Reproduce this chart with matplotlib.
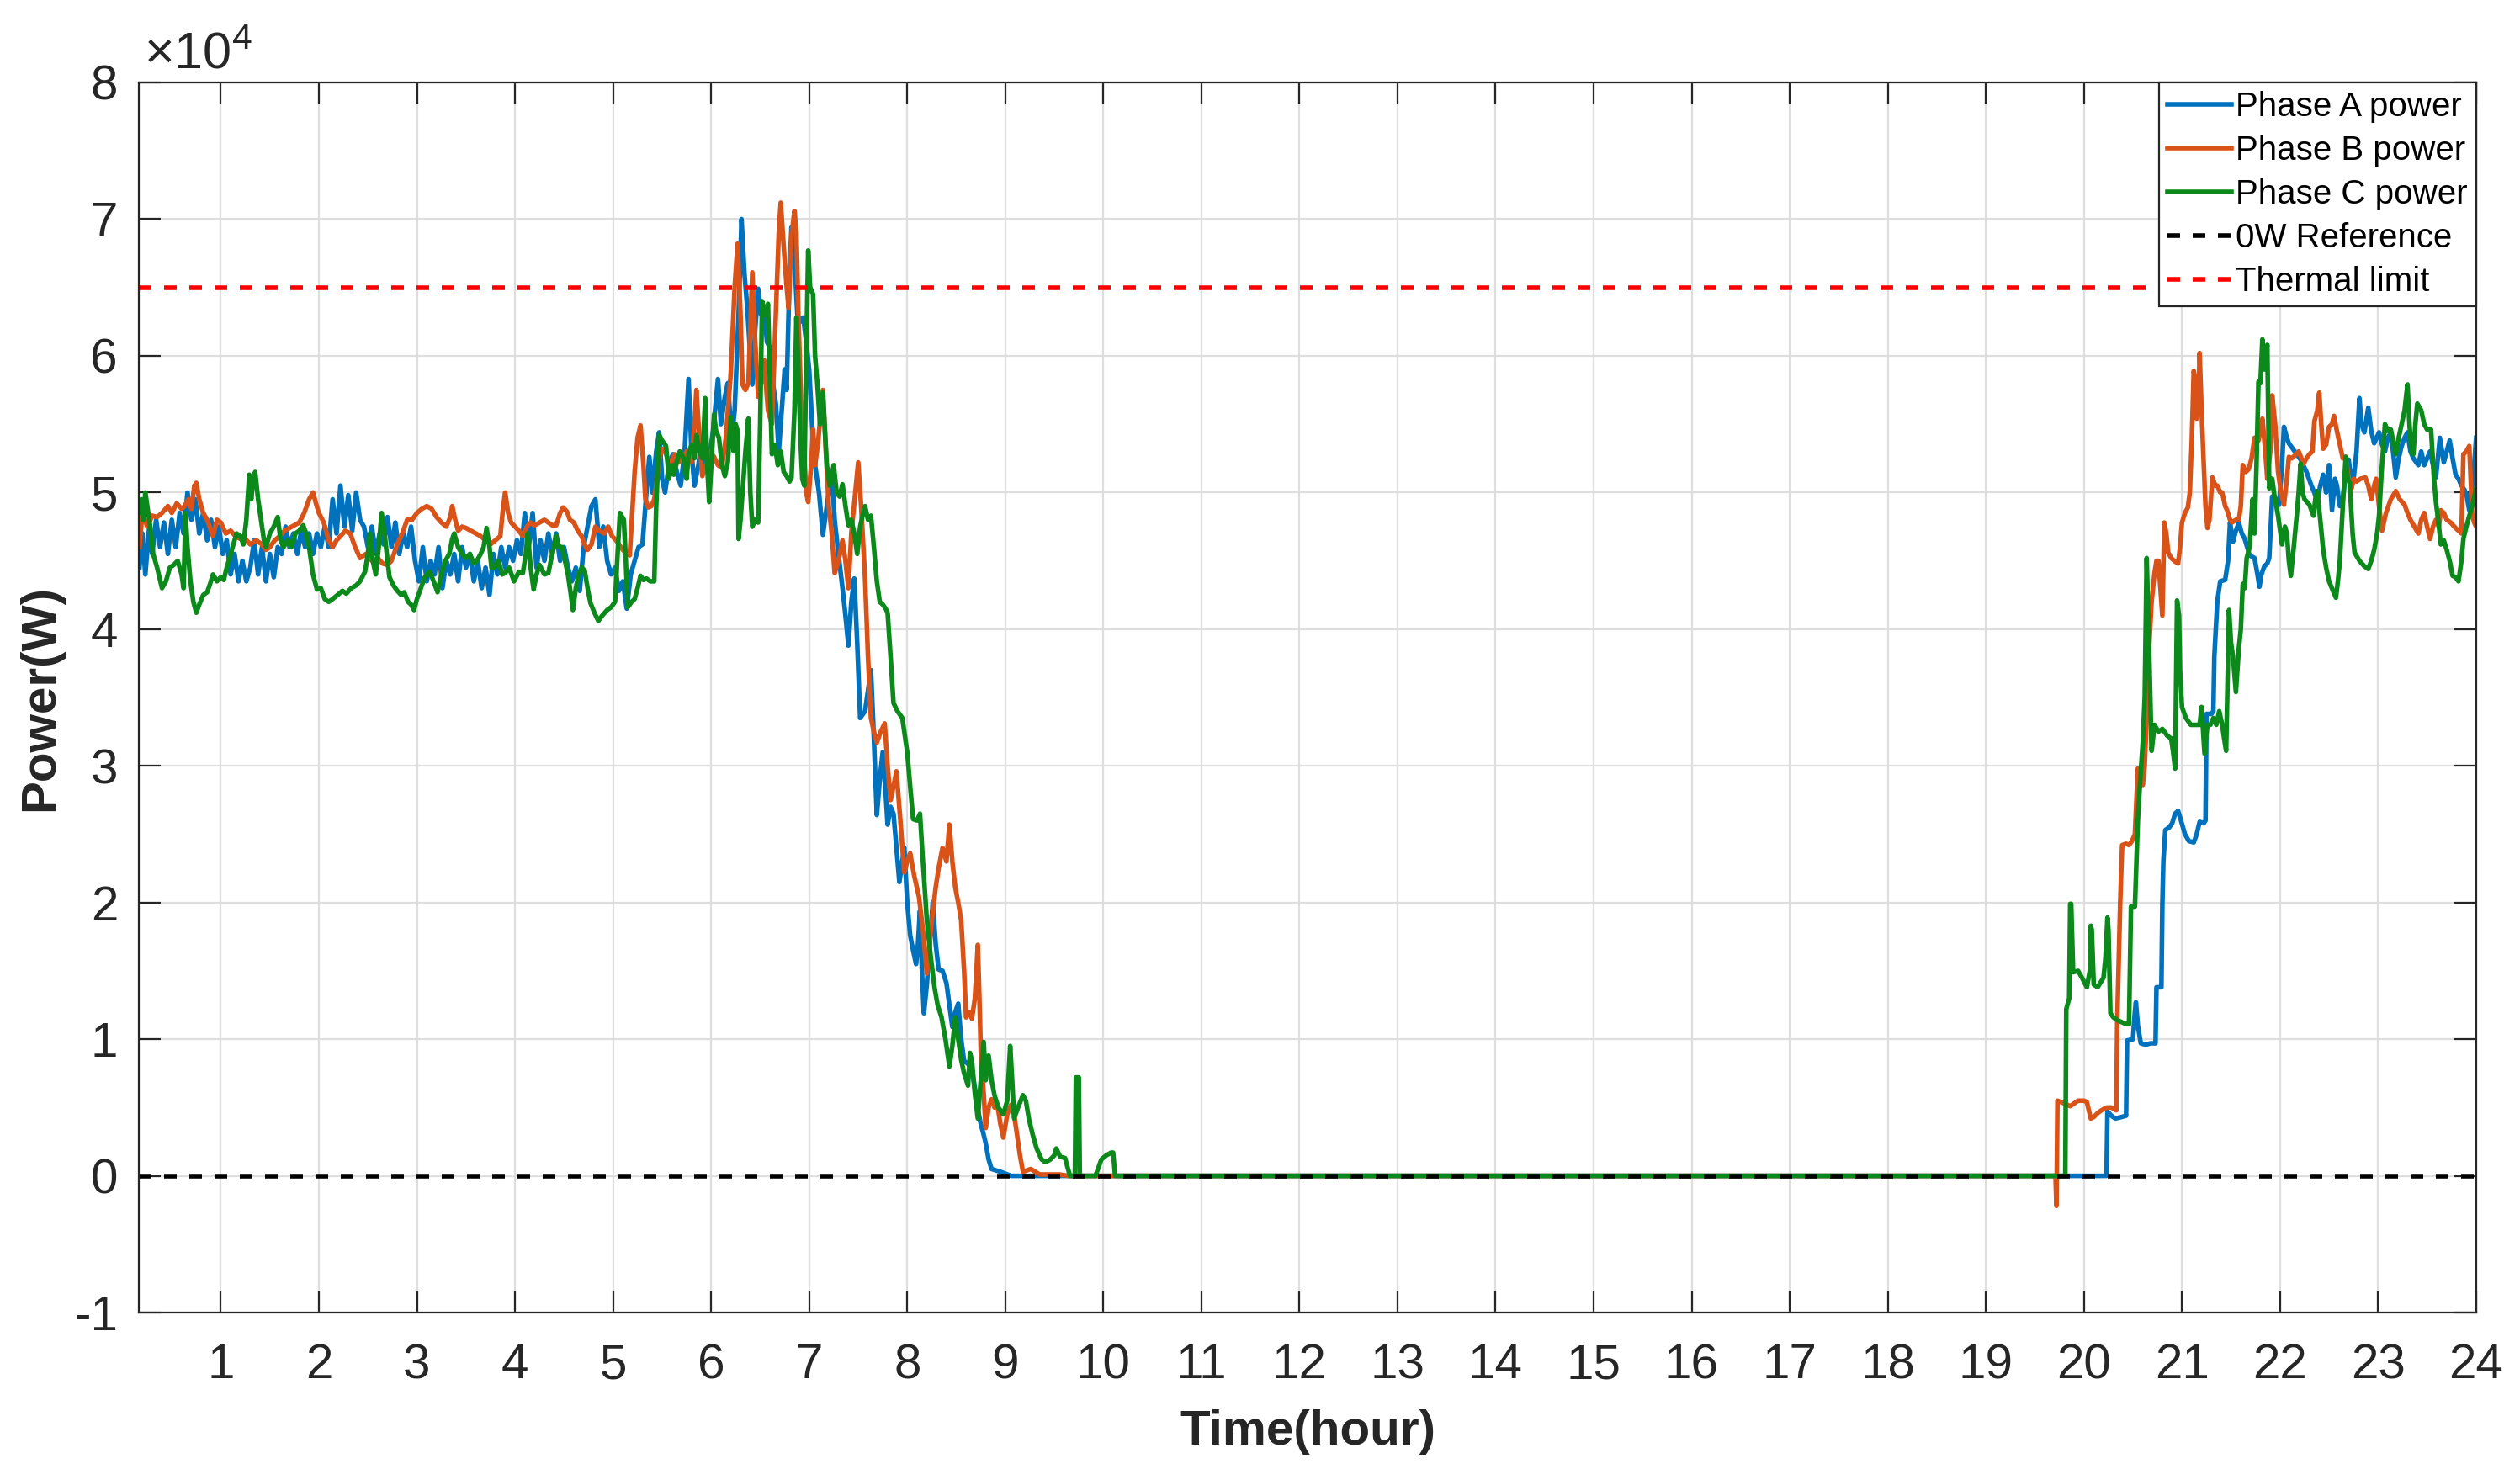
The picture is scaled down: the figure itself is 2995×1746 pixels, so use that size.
import numpy as np
import matplotlib
matplotlib.use('Agg')
import matplotlib.pyplot as plt
from matplotlib.ticker import FuncFormatter

plt.rcParams['font.family'] = ['Liberation Sans', 'DejaVu Sans']
plt.rcParams['mathtext.fontset'] = 'custom'
plt.rcParams['mathtext.rm'] = 'Liberation Sans'

# (hour, power in 1e4 W)
PHASE_A = [
    (0.17, 4.45), (0.2, 4.7), (0.23, 4.4), (0.27, 4.75), (0.3, 4.55), (0.34, 4.8), (0.38, 4.6), (0.42, 4.78),
    (0.46, 4.55), (0.5, 4.8), (0.54, 4.6), (0.58, 4.85), (0.62, 4.7), (0.66, 5.0), (0.7, 4.8), (0.74, 4.95),
    (0.78, 4.7), (0.82, 4.85), (0.86, 4.65), (0.9, 4.8), (0.94, 4.6), (0.98, 4.75), (1.02, 4.55), (1.06, 4.65),
    (1.1, 4.4), (1.14, 4.55), (1.18, 4.35), (1.22, 4.5), (1.26, 4.35), (1.3, 4.45), (1.34, 4.65), (1.38, 4.4),
    (1.42, 4.6), (1.46, 4.35), (1.5, 4.55), (1.54, 4.38), (1.58, 4.6), (1.62, 4.55), (1.66, 4.75), (1.7, 4.6),
    (1.74, 4.7), (1.78, 4.55), (1.82, 4.72), (1.86, 4.6), (1.9, 4.7), (1.94, 4.55), (1.98, 4.7), (2.02, 4.6),
    (2.06, 4.75), (2.1, 4.6), (2.14, 4.95), (2.18, 4.7), (2.22, 5.05), (2.26, 4.75), (2.3, 4.98), (2.34, 4.72),
    (2.38, 5.0), (2.42, 4.8), (2.46, 4.75), (2.5, 4.6), (2.54, 4.75), (2.58, 4.55), (2.62, 4.7), (2.66, 4.62),
    (2.7, 4.82), (2.74, 4.6), (2.78, 4.78), (2.82, 4.55), (2.86, 4.7), (2.9, 4.6), (2.94, 4.75), (2.98, 4.5),
    (3.02, 4.35), (3.06, 4.6), (3.1, 4.35), (3.14, 4.5), (3.18, 4.4), (3.22, 4.6), (3.26, 4.3), (3.3, 4.5),
    (3.34, 4.4), (3.38, 4.55), (3.42, 4.35), (3.46, 4.6), (3.5, 4.45), (3.54, 4.55), (3.58, 4.35), (3.62, 4.5),
    (3.66, 4.3), (3.7, 4.45), (3.74, 4.25), (3.78, 4.55), (3.82, 4.4), (3.86, 4.6), (3.9, 4.45), (3.94, 4.6),
    (3.98, 4.5), (4.02, 4.65), (4.06, 4.55), (4.1, 4.85), (4.14, 4.6), (4.18, 4.85), (4.22, 4.45), (4.26, 4.65),
    (4.3, 4.5), (4.34, 4.7), (4.38, 4.55), (4.42, 4.7), (4.46, 4.5), (4.5, 4.6), (4.54, 4.45), (4.58, 4.35),
    (4.62, 4.45), (4.66, 4.28), (4.7, 4.6), (4.74, 4.75), (4.78, 4.9), (4.82, 4.95), (4.86, 4.6), (4.9, 4.75),
    (4.94, 4.5), (4.98, 4.4), (5.02, 4.45), (5.06, 4.28), (5.1, 4.35), (5.14, 4.15), (5.18, 4.4), (5.22, 4.5),
    (5.26, 4.6), (5.3, 4.62), (5.34, 5.0), (5.37, 5.26), (5.4, 5.0), (5.44, 5.3), (5.47, 5.44), (5.5, 5.1),
    (5.53, 5.0), (5.57, 5.2), (5.61, 5.28), (5.65, 5.15), (5.69, 5.05), (5.73, 5.3), (5.77, 5.83), (5.8, 5.3),
    (5.83, 5.05), (5.87, 5.2), (5.9, 5.35), (5.94, 5.2), (5.98, 5.25), (6.02, 5.45), (6.07, 5.83), (6.1, 5.5),
    (6.14, 5.7), (6.17, 5.8), (6.21, 5.4), (6.24, 5.6), (6.28, 6.3), (6.31, 7.0), (6.34, 6.6), (6.37, 6.34),
    (6.4, 6.0), (6.42, 5.79), (6.45, 6.2), (6.48, 6.49), (6.51, 6.3), (6.54, 6.35), (6.57, 6.1), (6.6, 6.06),
    (6.63, 5.8), (6.66, 5.65), (6.69, 5.3), (6.72, 5.6), (6.75, 5.9), (6.77, 5.75), (6.8, 6.6), (6.82, 6.94),
    (6.85, 6.7), (6.88, 6.3), (6.91, 6.25), (6.94, 6.28), (6.97, 6.1), (7.0, 5.9), (7.03, 5.5), (7.06, 5.2),
    (7.1, 5.0), (7.14, 4.69), (7.18, 4.9), (7.23, 5.15), (7.26, 4.8), (7.29, 4.6), (7.34, 4.3), (7.37, 4.1),
    (7.4, 3.88), (7.43, 4.2), (7.46, 4.37), (7.49, 3.9), (7.52, 3.35), (7.57, 3.4), (7.6, 3.55), (7.63, 3.7),
    (7.66, 3.2), (7.69, 2.64), (7.72, 2.9), (7.75, 3.1), (7.78, 2.8), (7.8, 2.57), (7.83, 2.7), (7.86, 2.65),
    (7.89, 2.4), (7.92, 2.15), (7.95, 2.3), (7.97, 2.4), (8.0, 2.0), (8.03, 1.76), (8.06, 1.65), (8.09, 1.55),
    (8.11, 1.7), (8.13, 1.94), (8.15, 1.5), (8.17, 1.19), (8.2, 1.4), (8.23, 1.7), (8.26, 2.0), (8.29, 1.7),
    (8.32, 1.51), (8.36, 1.5), (8.4, 1.41), (8.43, 1.25), (8.46, 1.09), (8.49, 1.2), (8.52, 1.26), (8.55, 1.0),
    (8.58, 0.84), (8.62, 0.82), (8.66, 0.77), (8.7, 0.6), (8.73, 0.45), (8.75, 0.38), (8.78, 0.3), (8.8, 0.24),
    (8.83, 0.12), (8.86, 0.05), (8.95, 0.03), (9.06, 0.0),
    (20.23, 0.0), (20.24, 0.47), (20.28, 0.44), (20.32, 0.42), (20.38, 0.43), (20.43, 0.44), (20.44, 0.99),
    (20.5, 1.0), (20.52, 1.2), (20.53, 1.27), (20.55, 1.1), (20.58, 0.97), (20.63, 0.96), (20.68, 0.97),
    (20.73, 0.97), (20.74, 1.38), (20.79, 1.38), (20.8, 1.99), (20.81, 2.3), (20.83, 2.53), (20.87, 2.55),
    (20.9, 2.58), (20.93, 2.65), (20.96, 2.67), (20.99, 2.6), (21.03, 2.5), (21.07, 2.45), (21.12, 2.44),
    (21.15, 2.5), (21.18, 2.59), (21.22, 2.58), (21.24, 2.6), (21.25, 3.38), (21.3, 3.38), (21.32, 3.4),
    (21.33, 3.8), (21.36, 4.2), (21.39, 4.35), (21.44, 4.36), (21.47, 4.5), (21.49, 4.78), (21.52, 4.64),
    (21.55, 4.72), (21.58, 4.78), (21.61, 4.7), (21.64, 4.66), (21.69, 4.54), (21.74, 4.52), (21.77, 4.4),
    (21.79, 4.31), (21.81, 4.4), (21.84, 4.46), (21.87, 4.48), (21.89, 4.52), (21.92, 4.97), (21.96, 4.95),
    (21.99, 4.91), (22.02, 5.2), (22.04, 5.48), (22.07, 5.4), (22.09, 5.36), (22.12, 5.33), (22.15, 5.3),
    (22.21, 5.24), (22.27, 5.15), (22.32, 5.05), (22.35, 5.0), (22.38, 4.93), (22.41, 5.05), (22.44, 5.13),
    (22.47, 5.0), (22.5, 5.2), (22.53, 4.87), (22.56, 5.1), (22.58, 5.05), (22.61, 4.9), (22.64, 4.95),
    (22.67, 5.15), (22.7, 5.24), (22.73, 5.05), (22.75, 5.1), (22.78, 5.3), (22.81, 5.69), (22.83, 5.5),
    (22.86, 5.44), (22.9, 5.62), (22.93, 5.45), (22.96, 5.36), (23.01, 5.44), (23.04, 5.35), (23.07, 5.3),
    (23.1, 5.4), (23.13, 5.44), (23.16, 5.25), (23.18, 5.11), (23.21, 5.25), (23.24, 5.34), (23.27, 5.4),
    (23.3, 5.44), (23.33, 5.3), (23.36, 5.25), (23.41, 5.2), (23.44, 5.3), (23.47, 5.2), (23.5, 5.25),
    (23.53, 5.3), (23.56, 5.2), (23.59, 5.11), (23.63, 5.4), (23.67, 5.22), (23.7, 5.3), (23.73, 5.38),
    (23.76, 5.25), (23.79, 5.13), (23.82, 5.1), (23.85, 5.05), (23.88, 5.02), (23.9, 4.99), (23.93, 4.87),
    (23.95, 5.0), (23.97, 5.1), (24.0, 5.4),
]

PHASE_B = [
    (0.17, 4.6), (0.2, 4.85), (0.25, 4.75), (0.3, 4.83), (0.35, 4.82), (0.4, 4.85), (0.46, 4.9), (0.5, 4.85),
    (0.55, 4.92), (0.6, 4.88), (0.63, 4.9), (0.67, 4.95), (0.7, 4.88), (0.73, 5.05), (0.75, 5.07), (0.78, 4.95),
    (0.82, 4.85), (0.86, 4.8), (0.9, 4.72), (0.92, 4.68), (0.96, 4.8), (1.0, 4.78), (1.05, 4.7), (1.1, 4.72),
    (1.15, 4.68), (1.2, 4.66), (1.25, 4.66), (1.3, 4.62), (1.36, 4.65), (1.42, 4.62), (1.46, 4.58), (1.5, 4.6),
    (1.55, 4.65), (1.6, 4.68), (1.65, 4.72), (1.7, 4.74), (1.75, 4.76), (1.8, 4.78), (1.85, 4.85), (1.9, 4.95),
    (1.94, 5.0), (1.97, 4.92), (2.0, 4.85), (2.05, 4.78), (2.1, 4.65), (2.14, 4.6), (2.18, 4.65), (2.22, 4.68),
    (2.27, 4.72), (2.32, 4.7), (2.37, 4.6), (2.42, 4.52), (2.48, 4.55), (2.54, 4.5), (2.6, 4.52), (2.65, 4.48),
    (2.7, 4.47), (2.74, 4.5), (2.8, 4.62), (2.85, 4.7), (2.9, 4.8), (2.95, 4.8), (3.0, 4.85), (3.05, 4.88),
    (3.1, 4.9), (3.15, 4.88), (3.2, 4.82), (3.25, 4.78), (3.3, 4.75), (3.34, 4.82), (3.36, 4.9), (3.39, 4.8),
    (3.42, 4.72), (3.46, 4.75), (3.5, 4.74), (3.55, 4.72), (3.6, 4.7), (3.65, 4.68), (3.7, 4.65), (3.75, 4.62),
    (3.8, 4.65), (3.85, 4.68), (3.88, 4.9), (3.9, 5.0), (3.93, 4.85), (3.96, 4.78), (4.0, 4.75), (4.04, 4.72),
    (4.08, 4.68), (4.12, 4.75), (4.16, 4.78), (4.2, 4.76), (4.25, 4.78), (4.3, 4.8), (4.34, 4.78), (4.38, 4.76),
    (4.42, 4.76), (4.46, 4.85), (4.49, 4.89), (4.53, 4.86), (4.56, 4.8), (4.6, 4.78), (4.64, 4.72), (4.68, 4.68),
    (4.71, 4.62), (4.74, 4.58), (4.78, 4.62), (4.82, 4.75), (4.86, 4.72), (4.91, 4.7), (4.95, 4.75), (4.99, 4.68),
    (5.03, 4.65), (5.06, 4.62), (5.1, 4.58), (5.14, 4.55), (5.17, 4.54), (5.2, 4.9), (5.22, 5.15), (5.25, 5.4),
    (5.28, 5.49), (5.31, 5.2), (5.33, 4.95), (5.36, 4.89), (5.39, 4.9), (5.42, 4.95), (5.45, 5.1), (5.48, 5.3),
    (5.51, 5.32), (5.54, 5.28), (5.58, 5.2), (5.63, 5.28), (5.67, 5.22), (5.71, 5.25), (5.75, 5.3), (5.8, 5.22),
    (5.83, 5.5), (5.85, 5.75), (5.88, 5.4), (5.91, 5.12), (5.95, 5.2), (5.99, 5.3), (6.03, 5.26), (6.07, 5.2),
    (6.11, 5.18), (6.15, 5.4), (6.2, 5.87), (6.24, 6.5), (6.27, 6.82), (6.3, 6.3), (6.32, 5.79), (6.35, 5.75),
    (6.38, 5.8), (6.4, 6.2), (6.42, 6.61), (6.45, 6.1), (6.48, 5.7), (6.51, 5.8), (6.54, 5.97), (6.58, 5.6),
    (6.62, 5.5), (6.66, 6.3), (6.69, 6.9), (6.71, 7.12), (6.74, 6.8), (6.77, 6.51), (6.79, 6.35), (6.82, 6.88),
    (6.85, 7.06), (6.87, 6.9), (6.89, 6.3), (6.92, 5.6), (6.94, 5.4), (6.97, 5.0), (6.99, 4.93), (7.02, 5.2),
    (7.04, 5.46), (7.06, 5.2), (7.09, 5.36), (7.12, 5.6), (7.14, 5.75), (7.17, 5.3), (7.2, 4.9), (7.23, 4.7),
    (7.26, 4.41), (7.3, 4.5), (7.34, 4.65), (7.37, 4.5), (7.4, 4.3), (7.43, 4.7), (7.47, 5.0), (7.5, 5.22),
    (7.53, 4.9), (7.57, 4.37), (7.6, 3.8), (7.63, 3.35), (7.66, 3.25), (7.69, 3.17), (7.73, 3.25), (7.77, 3.31),
    (7.8, 3.0), (7.83, 2.75), (7.86, 2.85), (7.89, 2.96), (7.93, 2.6), (7.97, 2.22), (8.0, 2.3), (8.03, 2.36),
    (8.07, 2.2), (8.12, 2.04), (8.16, 1.8), (8.2, 1.48), (8.24, 1.8), (8.29, 2.11), (8.32, 2.25), (8.36, 2.4),
    (8.4, 2.3), (8.43, 2.57), (8.46, 2.3), (8.49, 2.11), (8.52, 2.0), (8.55, 1.87), (8.58, 1.5), (8.6, 1.16),
    (8.63, 1.2), (8.66, 1.15), (8.69, 1.3), (8.72, 1.69), (8.74, 1.2), (8.75, 0.91), (8.78, 0.6), (8.8, 0.35),
    (8.83, 0.5), (8.86, 0.56), (8.89, 0.5), (8.92, 0.52), (8.95, 0.38), (8.98, 0.28), (9.02, 0.45), (9.06, 0.52),
    (9.09, 0.45), (9.12, 0.3), (9.15, 0.15), (9.18, 0.03), (9.26, 0.05), (9.35, 0.01), (9.55, 0.01), (9.64, 0.0),
    (19.71, 0.0), (19.72, -0.22), (19.73, 0.55), (19.8, 0.53), (19.86, 0.51), (19.94, 0.55), (20.0, 0.55),
    (20.03, 0.54), (20.07, 0.42), (20.1, 0.43), (20.14, 0.46), (20.18, 0.48), (20.23, 0.5), (20.28, 0.5),
    (20.33, 0.48), (20.34, 1.14), (20.37, 2.0), (20.39, 2.42), (20.43, 2.43), (20.46, 2.42), (20.49, 2.45),
    (20.52, 2.5), (20.55, 2.98), (20.58, 2.9), (20.6, 2.86), (20.62, 3.0), (20.64, 3.35), (20.66, 3.8),
    (20.69, 4.2), (20.72, 4.41), (20.74, 4.5), (20.76, 4.5), (20.78, 4.3), (20.8, 4.1), (20.82, 4.78),
    (20.84, 4.7), (20.86, 4.56), (20.89, 4.52), (20.92, 4.5), (20.96, 4.48), (20.98, 4.6), (21.0, 4.78),
    (21.03, 4.85), (21.06, 4.89), (21.08, 5.0), (21.1, 5.38), (21.12, 5.89), (21.14, 5.8), (21.15, 5.54),
    (21.17, 5.7), (21.18, 6.02), (21.2, 5.6), (21.22, 5.24), (21.24, 4.9), (21.26, 4.74), (21.28, 4.8),
    (21.31, 5.11), (21.34, 5.05), (21.36, 5.05), (21.39, 5.0), (21.41, 5.0), (21.44, 4.9), (21.46, 4.87),
    (21.49, 4.8), (21.51, 4.78), (21.55, 4.8), (21.58, 4.8), (21.6, 4.9), (21.62, 5.2), (21.65, 5.15),
    (21.68, 5.17), (21.71, 5.25), (21.74, 5.4), (21.76, 5.4), (21.78, 5.38), (21.8, 5.45), (21.82, 5.54),
    (21.85, 5.3), (21.87, 5.1), (21.9, 5.3), (21.92, 5.71), (21.95, 5.5), (21.98, 5.15), (22.01, 5.0),
    (22.04, 4.91), (22.07, 5.1), (22.09, 5.26), (22.12, 5.25), (22.15, 5.27), (22.19, 5.3), (22.24, 5.21),
    (22.27, 5.25), (22.3, 5.28), (22.33, 5.3), (22.35, 5.52), (22.38, 5.6), (22.4, 5.73), (22.42, 5.5),
    (22.44, 5.32), (22.47, 5.35), (22.5, 5.48), (22.53, 5.5), (22.55, 5.56), (22.58, 5.45), (22.61, 5.35),
    (22.64, 5.25), (22.67, 5.26), (22.7, 5.1), (22.73, 5.03), (22.75, 5.1), (22.78, 5.08), (22.82, 5.1),
    (22.87, 5.11), (22.9, 5.05), (22.93, 4.95), (22.96, 5.05), (22.98, 5.1), (23.01, 4.9), (23.04, 4.72),
    (23.08, 4.85), (23.13, 4.95), (23.18, 5.01), (23.22, 4.95), (23.27, 4.91), (23.3, 4.85), (23.33, 4.8),
    (23.37, 4.75), (23.41, 4.7), (23.44, 4.8), (23.47, 4.85), (23.5, 4.75), (23.53, 4.66), (23.56, 4.75),
    (23.59, 4.8), (23.62, 4.75), (23.64, 4.87), (23.67, 4.85), (23.7, 4.8), (23.74, 4.78), (23.79, 4.74),
    (23.82, 4.72), (23.85, 4.7), (23.87, 5.28), (23.9, 5.3), (23.93, 5.34), (23.95, 5.0), (23.96, 4.83),
    (23.98, 4.78), (24.0, 4.75),
]

PHASE_C = [
    (0.17, 4.85), (0.19, 4.95), (0.21, 4.8), (0.23, 5.0), (0.25, 4.9), (0.28, 4.75), (0.31, 4.55), (0.35, 4.45),
    (0.4, 4.3), (0.44, 4.35), (0.48, 4.45), (0.52, 4.47), (0.56, 4.5), (0.6, 4.4), (0.62, 4.3), (0.64, 4.85),
    (0.66, 4.6), (0.69, 4.35), (0.72, 4.2), (0.75, 4.12), (0.78, 4.18), (0.82, 4.25), (0.86, 4.27), (0.89, 4.33),
    (0.92, 4.4), (0.96, 4.35), (1.0, 4.38), (1.03, 4.36), (1.06, 4.45), (1.09, 4.52), (1.12, 4.6), (1.16, 4.7),
    (1.2, 4.68), (1.23, 4.62), (1.26, 4.8), (1.29, 5.13), (1.31, 4.95), (1.33, 5.1), (1.35, 5.15), (1.38, 4.95),
    (1.41, 4.8), (1.44, 4.65), (1.46, 4.6), (1.5, 4.7), (1.54, 4.75), (1.58, 4.82), (1.61, 4.65), (1.64, 4.6),
    (1.68, 4.65), (1.72, 4.6), (1.76, 4.7), (1.8, 4.72), (1.84, 4.76), (1.87, 4.7), (1.9, 4.6), (1.94, 4.4),
    (1.98, 4.29), (2.02, 4.3), (2.06, 4.22), (2.1, 4.2), (2.14, 4.22), (2.19, 4.25), (2.24, 4.28), (2.28, 4.26),
    (2.33, 4.3), (2.38, 4.32), (2.42, 4.35), (2.47, 4.42), (2.5, 4.55), (2.52, 4.7), (2.55, 4.5), (2.58, 4.4),
    (2.61, 4.6), (2.64, 4.85), (2.67, 4.7), (2.7, 4.5), (2.72, 4.38), (2.76, 4.32), (2.8, 4.28), (2.84, 4.25),
    (2.87, 4.27), (2.91, 4.2), (2.94, 4.18), (2.97, 4.14), (3.0, 4.22), (3.04, 4.3), (3.08, 4.38), (3.13, 4.42),
    (3.17, 4.35), (3.21, 4.27), (3.25, 4.4), (3.29, 4.5), (3.33, 4.55), (3.36, 4.66), (3.38, 4.7), (3.42, 4.6),
    (3.46, 4.55), (3.5, 4.52), (3.54, 4.55), (3.58, 4.48), (3.61, 4.5), (3.65, 4.55), (3.68, 4.6), (3.71, 4.74),
    (3.74, 4.6), (3.76, 4.45), (3.79, 4.45), (3.83, 4.5), (3.87, 4.4), (3.9, 4.41), (3.94, 4.45), (3.99, 4.35),
    (4.04, 4.42), (4.08, 4.41), (4.11, 4.55), (4.13, 4.7), (4.16, 4.45), (4.19, 4.29), (4.22, 4.4), (4.25, 4.47),
    (4.3, 4.4), (4.34, 4.41), (4.38, 4.55), (4.42, 4.68), (4.45, 4.6), (4.48, 4.6), (4.51, 4.5), (4.54, 4.4),
    (4.57, 4.25), (4.59, 4.14), (4.62, 4.3), (4.65, 4.4), (4.68, 4.45), (4.71, 4.43), (4.74, 4.3), (4.77, 4.19),
    (4.81, 4.12), (4.85, 4.06), (4.89, 4.1), (4.94, 4.14), (4.98, 4.16), (5.02, 4.2), (5.05, 4.6), (5.07, 4.85),
    (5.11, 4.8), (5.13, 4.5), (5.15, 4.16), (5.19, 4.2), (5.22, 4.22), (5.25, 4.3), (5.28, 4.39), (5.31, 4.36),
    (5.34, 4.37), (5.38, 4.35), (5.42, 4.35), (5.44, 4.9), (5.47, 5.42), (5.5, 5.38), (5.54, 5.34), (5.57, 5.1),
    (5.6, 5.2), (5.62, 5.13), (5.66, 5.25), (5.68, 5.3), (5.72, 5.25), (5.75, 5.1), (5.77, 5.28), (5.8, 5.35),
    (5.83, 5.25), (5.85, 5.42), (5.88, 5.3), (5.91, 5.25), (5.94, 5.69), (5.96, 5.2), (5.98, 4.93), (6.01, 5.3),
    (6.03, 5.57), (6.05, 5.45), (6.08, 5.4), (6.11, 5.2), (6.14, 5.12), (6.17, 5.22), (6.2, 5.55), (6.23, 5.3),
    (6.25, 5.5), (6.27, 5.45), (6.28, 4.66), (6.3, 4.8), (6.32, 5.0), (6.35, 5.3), (6.38, 5.54), (6.4, 5.0),
    (6.42, 4.75), (6.45, 4.8), (6.48, 4.78), (6.5, 5.5), (6.52, 6.4), (6.55, 6.3), (6.58, 6.38), (6.6, 5.8),
    (6.62, 5.28), (6.65, 5.35), (6.68, 5.2), (6.71, 5.3), (6.74, 5.15), (6.77, 5.12), (6.8, 5.08), (6.82, 5.11),
    (6.85, 5.6), (6.87, 6.28), (6.89, 5.9), (6.91, 5.4), (6.93, 5.1), (6.95, 5.05), (6.97, 6.0), (6.99, 6.77),
    (7.01, 6.5), (7.04, 6.45), (7.06, 6.0), (7.08, 5.83), (7.11, 5.5), (7.14, 5.73), (7.18, 5.2), (7.21, 5.05),
    (7.25, 5.2), (7.28, 5.0), (7.31, 4.97), (7.34, 5.06), (7.37, 4.9), (7.4, 4.76), (7.43, 4.8), (7.46, 4.7),
    (7.49, 4.55), (7.52, 4.75), (7.55, 4.85), (7.57, 4.9), (7.6, 4.8), (7.63, 4.83), (7.66, 4.6), (7.69, 4.35),
    (7.72, 4.2), (7.75, 4.18), (7.78, 4.15), (7.8, 4.12), (7.83, 3.8), (7.86, 3.46), (7.9, 3.4), (7.95, 3.35),
    (7.98, 3.2), (8.0, 3.1), (8.03, 2.85), (8.06, 2.61), (8.1, 2.6), (8.13, 2.65), (8.16, 2.3), (8.2, 1.87),
    (8.24, 1.6), (8.28, 1.37), (8.31, 1.25), (8.35, 1.16), (8.39, 1.0), (8.43, 0.8), (8.46, 0.95), (8.49, 1.16),
    (8.52, 1.0), (8.55, 0.85), (8.58, 0.75), (8.62, 0.66), (8.64, 0.9), (8.66, 0.84), (8.69, 0.6), (8.72, 0.42),
    (8.75, 0.7), (8.78, 0.98), (8.8, 0.7), (8.83, 0.88), (8.86, 0.7), (8.89, 0.59), (8.93, 0.5), (8.98, 0.45),
    (9.02, 0.55), (9.05, 0.95), (9.07, 0.7), (9.09, 0.42), (9.13, 0.5), (9.18, 0.59), (9.21, 0.55), (9.24, 0.42),
    (9.28, 0.3), (9.32, 0.2), (9.37, 0.12), (9.41, 0.1), (9.46, 0.12), (9.5, 0.15), (9.52, 0.2), (9.56, 0.14),
    (9.61, 0.13), (9.64, 0.05), (9.66, 0.0), (9.71, 0.0), (9.72, 0.72), (9.75, 0.72), (9.76, 0.0), (9.92, 0.0),
    (9.98, 0.12), (10.03, 0.15), (10.08, 0.17), (10.1, 0.17), (10.12, 0.0),
    (19.81, 0.0), (19.82, 1.22), (19.85, 1.3), (19.86, 1.99), (19.87, 1.99), (19.89, 1.49), (19.94, 1.5),
    (19.98, 1.45), (20.03, 1.38), (20.06, 1.5), (20.07, 1.83), (20.08, 1.8), (20.1, 1.4), (20.14, 1.38),
    (20.2, 1.45), (20.22, 1.6), (20.24, 1.89), (20.25, 1.8), (20.27, 1.19), (20.3, 1.16), (20.34, 1.14),
    (20.43, 1.11), (20.46, 1.11), (20.48, 1.97), (20.52, 1.97), (20.55, 2.6), (20.57, 2.85), (20.6, 3.17),
    (20.62, 3.5), (20.64, 4.52), (20.66, 4.0), (20.67, 3.7), (20.69, 3.11), (20.72, 3.3), (20.76, 3.25),
    (20.8, 3.27), (20.85, 3.22), (20.89, 3.2), (20.91, 3.1), (20.93, 2.98), (20.94, 3.6), (20.95, 4.21),
    (20.97, 4.1), (20.98, 3.7), (21.0, 3.43), (21.04, 3.35), (21.09, 3.3), (21.14, 3.3), (21.18, 3.3),
    (21.2, 3.43), (21.22, 3.2), (21.23, 3.09), (21.26, 3.3), (21.29, 3.3), (21.32, 3.35), (21.35, 3.3),
    (21.38, 3.4), (21.41, 3.3), (21.43, 3.2), (21.45, 3.11), (21.47, 3.8), (21.48, 4.14), (21.5, 3.9),
    (21.52, 3.8), (21.55, 3.54), (21.58, 3.86), (21.6, 4.0), (21.62, 4.33), (21.64, 4.3), (21.66, 4.52),
    (21.69, 4.6), (21.72, 4.95), (21.74, 4.7), (21.76, 5.2), (21.78, 5.81), (21.8, 5.8), (21.82, 6.12),
    (21.84, 5.9), (21.87, 6.08), (21.89, 5.03), (21.92, 5.1), (21.94, 4.99), (21.98, 4.83), (22.02, 4.62),
    (22.05, 4.75), (22.07, 4.7), (22.09, 4.5), (22.11, 4.39), (22.14, 4.6), (22.17, 4.83), (22.19, 5.0),
    (22.21, 5.21), (22.23, 5.0), (22.25, 4.95), (22.3, 4.91), (22.34, 4.83), (22.36, 4.95), (22.38, 5.01),
    (22.41, 4.8), (22.44, 4.58), (22.47, 4.45), (22.5, 4.35), (22.54, 4.28), (22.57, 4.23), (22.59, 4.35),
    (22.61, 4.5), (22.64, 4.9), (22.67, 5.26), (22.69, 5.1), (22.71, 5.07), (22.74, 4.7), (22.76, 4.56),
    (22.81, 4.5), (22.86, 4.46), (22.9, 4.44), (22.93, 4.5), (22.96, 4.58), (22.99, 4.7), (23.01, 4.83),
    (23.04, 5.2), (23.07, 5.5), (23.1, 5.45), (23.13, 5.46), (23.16, 5.35), (23.18, 5.28), (23.21, 5.4),
    (23.24, 5.5), (23.27, 5.6), (23.3, 5.79), (23.32, 5.5), (23.34, 5.3), (23.36, 5.28), (23.38, 5.5),
    (23.4, 5.65), (23.44, 5.6), (23.47, 5.5), (23.5, 5.46), (23.54, 5.46), (23.57, 5.1), (23.59, 4.93),
    (23.62, 4.75), (23.64, 4.62), (23.67, 4.65), (23.7, 4.58), (23.73, 4.5), (23.76, 4.39), (23.79, 4.38),
    (23.82, 4.35), (23.85, 4.5), (23.87, 4.66), (23.9, 4.75), (23.93, 4.83), (23.96, 4.9), (24.0, 5.03),
]

LABELS = ['Phase A power', 'Phase B power', 'Phase C power']
COLORS = ['#0072BD', '#D95319', '#0B8A1B']
ZERO_REF = 0.0
THERMAL_LIMIT = 65000.0
HOURS = list(range(1, 25))
Y_TICKS = [-1e4, 0, 1e4, 2e4, 3e4, 4e4, 5e4, 6e4, 7e4, 8e4]

TXT = '#262626'

fig = plt.figure(figsize=(14.975, 8.73), dpi=200)
ax = fig.add_axes([0.0551, 0.1065, 0.9275, 0.8374])

for series, lab, col in zip([PHASE_A, PHASE_B, PHASE_C], LABELS, COLORS):
    t, p = np.array(series).T
    ax.plot(t, p * 1e4, color=col, lw=2.0, label=lab)

# reference lines
ax.axhline(ZERO_REF, color='black', lw=2.0, ls=(0, (2.7, 2.7)), label='0W Reference')
ax.axhline(THERMAL_LIMIT, color='#FF0000', lw=2.0, ls=(0, (2.7, 2.7)), label='Thermal limit')

ax.set_xlim(0.164, 24)
ax.set_ylim(-1e4, 8e4)
ax.set_xticks(HOURS)
ax.set_yticks(Y_TICKS)
ax.yaxis.set_major_formatter(FuncFormatter(lambda v, _: f'{v / 1e4:g}'))

ax.grid(True, color='#dedede', lw=0.8)
ax.set_axisbelow(True)
ax.tick_params(direction='in', length=9.4, width=0.8, colors=TXT, labelsize=21,
               top=True, right=True)
ax.tick_params(axis='x', pad=13)
ax.tick_params(axis='y', pad=9)
for s in ax.spines.values():
    s.set_color(TXT)
    s.set_linewidth(0.8)

ax.set_xlabel('Time(hour)', fontsize=21, fontweight='bold', color=TXT, labelpad=9)
ax.set_ylabel('Power(W)', fontsize=21, fontweight='bold', color=TXT, labelpad=4.5)
ax.text(0.002, 1.011, r'$\times10^{4}$', transform=ax.transAxes, fontsize=22,
        color=TXT, va='baseline', ha='left')

leg = ax.legend(loc='upper right', bbox_to_anchor=(1.0, 1.0), borderaxespad=0,
                fontsize=14.5, frameon=True, fancybox=False, framealpha=1,
                handlelength=1.9, handletextpad=0.12, borderpad=0.25,
                labelspacing=0.35)
leg.get_frame().set_edgecolor(TXT)
leg.get_frame().set_linewidth(0.8)

fig.savefig('out.png', dpi=200)
